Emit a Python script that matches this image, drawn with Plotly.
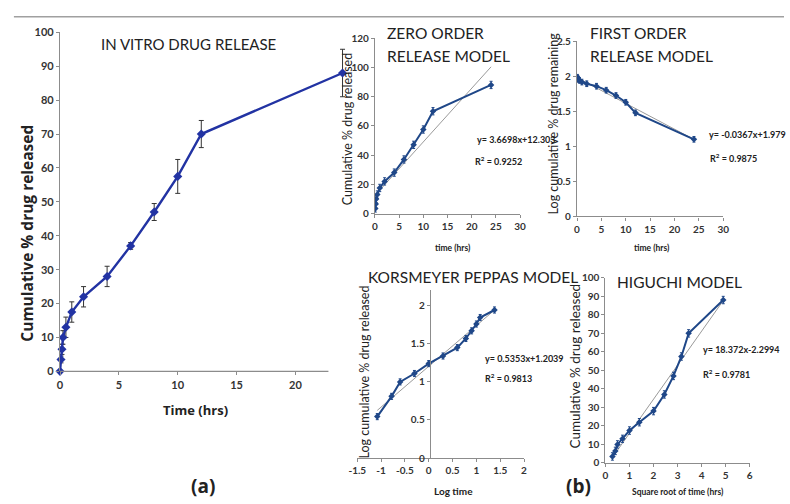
import plotly.graph_objects as go

W, H = 790, 504

def px(x):
    return x / W

def py(y):
    return 1 - y / H

# ---------------- data ----------------
# (a) in-vitro release
time_hrs = [0, 0.083, 0.167, 0.25, 0.5, 1, 2, 4, 6, 8, 10, 12, 24]
released = [0, 3.5, 6.5, 10, 13, 17.5, 22, 28, 37, 47, 57.5, 70, 88]
released_sd = [0, 1, 1.5, 2, 3, 3, 3, 3, 1, 2.5, 5, 4, 7]

# zero order
zo_time = [0.083, 0.167, 0.25, 0.5, 1, 2, 4, 6, 8, 10, 12, 24]
zo_rel = [3.5, 6.5, 10, 13, 17.5, 22, 28, 37, 47, 57.5, 70, 88]
zo_fit_x = [0, 24]
zo_fit_y = [12.3, 100.4]

# first order
fo_time = [0.083, 0.167, 0.25, 0.5, 1, 2, 4, 6, 8, 10, 12, 24]
fo_logrem = [1.985, 1.971, 1.954, 1.94, 1.916, 1.892, 1.857, 1.80, 1.724, 1.628, 1.477, 1.10]
fo_fit_x = [0, 24]
fo_fit_y = [1.979, 1.098]

# Korsmeyer-Peppas
kp_logt = [-1.08, -0.78, -0.6, -0.3, 0, 0.3, 0.6, 0.78, 0.9, 1.0, 1.08, 1.38]
kp_logrel = [0.544, 0.81, 1.0, 1.11, 1.24, 1.34, 1.45, 1.57, 1.67, 1.76, 1.845, 1.944]
kp_fit_x = [-1.08, 1.38]
kp_fit_y = [0.626, 1.943]

# Higuchi
hg_sqrt_t = [0.29, 0.41, 0.5, 0.71, 1, 1.41, 2, 2.45, 2.83, 3.16, 3.46, 4.9]
hg_rel = [3.5, 6.5, 10, 13, 17.5, 22, 28, 37, 47, 57.5, 70, 88]
hg_fit_x = [0.29, 4.9]
hg_fit_y = [3.0, 87.7]

main_ticks_x = [0, 5, 10, 15, 20]
main_ticks_y = [0, 10, 20, 30, 40, 50, 60, 70, 80, 90, 100]
kp_ticks_x = [-1.5, -1, -0.5, 0, 0.5, 1, 1.5, 2]
kp_ticklabels_x = ["-1.5", "-1", "-0.5", "0", "0.5", "1", "1.5", "2"]
kp_ticks_y = [0, 0.5, 1, 1.5, 2]
kp_ticklabels_y = ["0", "0.5", "1", "1.5", "2"]

MAIN_BLUE = "#2233a3"
SUB_BLUE = "#1f4788"
FIT_GRAY = "#9a9a9a"
AX_GRAY = "#8c8c8c"
TXT = "#222222"
FONT = "Lato"

fig = go.Figure()

# (a)
fig.add_trace(go.Scatter(
    x=time_hrs, y=released, mode="lines+markers",
    line=dict(color=MAIN_BLUE, width=2.4),
    marker=dict(symbol="diamond", size=7, color=MAIN_BLUE),
    error_y=dict(type="data", array=released_sd, color="#333333", thickness=1, width=2.5),
    cliponaxis=False, xaxis="x", yaxis="y"))

# zero order
fig.add_trace(go.Scatter(x=zo_fit_x, y=zo_fit_y, mode="lines",
                         line=dict(color=FIT_GRAY, width=1), xaxis="x2", yaxis="y2"))
fig.add_trace(go.Scatter(
    x=zo_time, y=zo_rel, mode="lines+markers",
    line=dict(color=SUB_BLUE, width=2),
    marker=dict(symbol="diamond", size=5, color=SUB_BLUE),
    error_y=dict(type="constant", value=2.5, color=SUB_BLUE, thickness=1, width=1.5),
    xaxis="x2", yaxis="y2"))

# first order
fig.add_trace(go.Scatter(x=fo_fit_x, y=fo_fit_y, mode="lines",
                         line=dict(color=FIT_GRAY, width=1), xaxis="x3", yaxis="y3"))
fig.add_trace(go.Scatter(
    x=fo_time, y=fo_logrem, mode="lines+markers",
    line=dict(color=SUB_BLUE, width=2),
    marker=dict(symbol="diamond", size=5, color=SUB_BLUE),
    error_y=dict(type="constant", value=0.04, color=SUB_BLUE, thickness=1, width=1.5),
    xaxis="x3", yaxis="y3"))

# KP
fig.add_trace(go.Scatter(x=kp_fit_x, y=kp_fit_y, mode="lines",
                         line=dict(color=FIT_GRAY, width=1), xaxis="x4", yaxis="y4"))
fig.add_trace(go.Scatter(
    x=kp_logt, y=kp_logrel, mode="lines+markers",
    line=dict(color=SUB_BLUE, width=2),
    marker=dict(symbol="diamond", size=5, color=SUB_BLUE),
    error_y=dict(type="constant", value=0.04, color=SUB_BLUE, thickness=1, width=1.5),
    xaxis="x4", yaxis="y4"))

# Higuchi
fig.add_trace(go.Scatter(x=hg_fit_x, y=hg_fit_y, mode="lines",
                         line=dict(color=FIT_GRAY, width=1), xaxis="x5", yaxis="y5"))
fig.add_trace(go.Scatter(
    x=hg_sqrt_t, y=hg_rel, mode="lines+markers",
    line=dict(color=SUB_BLUE, width=2),
    marker=dict(symbol="diamond", size=5, color=SUB_BLUE),
    error_y=dict(type="constant", value=2, color=SUB_BLUE, thickness=1, width=1.5),
    xaxis="x5", yaxis="y5"))

tick_font_main = dict(family=FONT, size=11, color="#333333", weight="bold")
tick_font_sub = dict(family=FONT, size=10, color="#333333", weight="bold")

def ax(domain, rng, tickvals=None, dtick=None, font=tick_font_sub, showline=True, **kw):
    d = dict(domain=domain, range=rng, showgrid=False, zeroline=False,
             showline=showline, linecolor=AX_GRAY, linewidth=1.2,
             ticks="outside", ticklen=3, tickcolor=AX_GRAY, tickfont=font,
             fixedrange=True)
    if tickvals is not None:
        d["tickmode"] = "array"
        d["tickvals"] = tickvals
    if dtick is not None:
        d["dtick"] = dtick
        d["tick0"] = 0
    d.update(kw)
    return d

fig.update_layout(
    width=W, height=H,
    margin=dict(l=0, r=0, t=0, b=0),
    paper_bgcolor="white", plot_bgcolor="rgba(0,0,0,0)",
    showlegend=False,
    font=dict(family=FONT, color=TXT),
    xaxis=ax([px(52), px(346)], [0, 24.5], tickvals=main_ticks_x, font=tick_font_main,
             showline=False, anchor="y"),
    yaxis=ax([py(374), py(26)], [0, 100], tickvals=main_ticks_y, font=tick_font_main, anchor="x"),
    xaxis2=ax([px(373), px(521)], [0, 30], dtick=5, anchor="y2"),
    yaxis2=ax([py(212), py(32)], [0, 120], dtick=20, anchor="x2"),
    xaxis3=ax([px(579), px(728)], [0, 30], dtick=5, anchor="y3"),
    yaxis3=ax([py(215), py(35)], [0, 2.5], dtick=0.5, anchor="x3"),
    xaxis4=ax([px(355), px(525)], [-1.5, 2], tickvals=kp_ticks_x, ticktext=kp_ticklabels_x, anchor="y4"),
    yaxis4=ax([py(463), py(291)], [0, 2.2], tickvals=kp_ticks_y, ticktext=kp_ticklabels_y,
              anchor="free", position=px(429)),
    xaxis5=ax([px(608), px(755)], [0, 6], dtick=1, anchor="y5"),
    yaxis5=ax([py(468), py(278)], [0, 100], dtick=10, anchor="x5"),
)

# main x axis line (ends before the last point, as in the source)
fig.add_shape(type="line", xref="x", yref="paper", x0=0, x1=22.8, y0=py(374), y1=py(374),
              line=dict(color=AX_GRAY, width=1.2))
# top separator rule
fig.add_shape(type="line", xref="paper", yref="paper", x0=px(5), x1=1, y0=py(10), y1=py(10),
              line=dict(color="#a0a0a0", width=1.5))

def note(text, x, y, size, bold=False, angle=0, xanchor="center", color=TXT, family=FONT):
    fig.add_annotation(text=text, x=px(x), y=py(y), xref="paper", yref="paper",
                       showarrow=False, textangle=angle, xanchor=xanchor, yanchor="middle",
                       font=dict(family=family, size=size, color=color,
                                 weight="bold" if bold else "normal"))

# titles
note("IN VITRO DRUG RELEASE", 92, 38, 15, xanchor="left")
note("ZERO ORDER", 383, 27, 15.5, xanchor="left")
note("RELEASE MODEL", 383, 50, 15.5, xanchor="left")
note("FIRST ORDER", 590, 27, 15.5, xanchor="left")
note("RELEASE MODEL", 590, 50, 15.5, xanchor="left")
note("KORSMEYER PEPPAS MODEL", 364, 277, 15.5, xanchor="left")
note("HIGUCHI MODEL", 618, 282, 15.5, xanchor="left")

# axis titles
note("Cumulative % drug released", 18, 232, 15.5, bold=True, angle=-90, family="Open Sans")
note("Time (hrs)", 190, 414, 13, bold=True, family="Open Sans")
note("Cumulative % drug released", 345, 125, 12.5, angle=-90)
note("time (hrs)", 453, 247, 8.5, bold=True)
note("Log cumulative % drug remaining", 555, 119, 12.5, angle=-90)
note("time (hrs)", 655, 247, 8.5, bold=True)
note("Log cumulative % drug released", 362, 375, 12.5, angle=-90)
note("Log time", 453, 497, 10, bold=True)
note("Cumulative % drug released", 577, 369, 13.5, angle=-90)
note("Square root of time (hrs)", 682, 498, 8.5, bold=True)

# equations
note("y= 3.6698x+12.303", 475, 136, 9, bold=True, xanchor="left")
note("R<sup>2</sup> = 0.9252", 473, 158, 9, bold=True, xanchor="left")
note("y= -0.0367x+1.979", 712, 131, 9, bold=True, xanchor="left")
note("R<sup>2</sup> = 0.9875", 713, 155, 9, bold=True, xanchor="left")
note("y= 0.5353x+1.2039", 483, 361, 9, bold=True, xanchor="left")
note("R<sup>2</sup> = 0.9813", 483, 381, 9, bold=True, xanchor="left")
note("y= 18.372x-2.2994", 705, 352, 9, bold=True, xanchor="left")
note("R<sup>2</sup> = 0.9781", 705, 377, 9, bold=True, xanchor="left")

# panel labels
note("(a)", 198, 492, 19, bold=True, family="Open Sans")
note("(b)", 581, 492, 19, bold=True, family="Open Sans")

fig.write_html("out.html")
